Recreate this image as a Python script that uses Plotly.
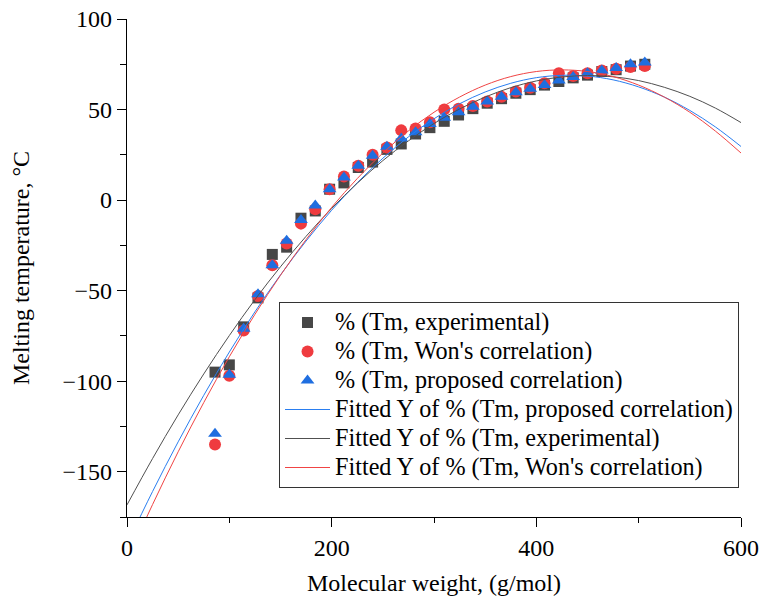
import plotly.graph_objects as go

# Molecular weight (g/mol) of the data points
mw = [86, 100, 114, 128, 142, 156, 170, 184, 198, 212, 226, 240, 254, 268, 282, 296,
      310, 324, 338, 352, 366, 380, 394, 408, 422, 436, 450, 464, 478, 492, 506]

# Melting temperatures (°C)
tm_exp = [-95, -91, -70, -54, -30, -26, -10, -6, 6, 9.5, 18, 21, 28, 31, 36.5, 40,
          43.5, 47, 50.5, 53.5, 56, 59, 61, 63.5, 65.5, 67.5, 69, 71, 72, 74, 75]
tm_won = [-135, -97, -72, -53, -36, -24, -13, -5, 6, 13, 19, 25, 29, 38.5, 39.5, 43,
          50, 50.5, 52, 54.5, 57, 60, 62, 64.5, 70, 68.5, 70, 71.5, 72.5, 73.5, 74]
tm_prop = [-129, -96.5, -71, -52, -36, -22.5, -11, -3, 6, 12.5, 19, 24.5, 29.5, 34, 37.5, 42,
           45.5, 48.5, 51.5, 54.5, 57, 59.5, 61.5, 63.5, 66, 68, 70, 71.5, 73, 75, 76]

# Fitted curves at regular x positions
x_fit = [0, 25, 50, 75, 100, 125, 150, 175, 200, 225, 250, 275, 300, 325, 350, 375,
         400, 425, 450, 475, 500, 525, 550, 575, 600]
fit_prop = [-190, -160.9, -133.5, -107.8, -83.9, -61.7, -41.3, -22.6, -5.6, 9.6, 23.1, 34.9,
            44.9, 53.2, 59.7, 64.5, 67.6, 68.9, 68.5, 66.4, 62.5, 56.9, 49.5, 40.4, 29.6]
fit_exp = [-168.3, -142.7, -118.6, -96.0, -74.8, -55.0, -36.8, -20.0, -4.6, 9.3, 21.8, 32.7,
           42.3, 50.3, 56.9, 62.1, 65.8, 68.0, 68.8, 68.1, 66.0, 62.3, 57.3, 50.8, 42.8]
fit_won = [-199, -168.1, -139.0, -111.8, -86.5, -63.1, -41.5, -21.8, -4.0, 11.9, 26.0, 38.2,
           48.5, 56.9, 63.5, 68.2, 71.0, 71.9, 71.0, 68.2, 63.5, 56.9, 48.5, 38.1, 26.0]

series_names = ["% (Tm, experimental)",
                "% (Tm, Won's correlation)",
                "% (Tm, proposed correlation)",
                "Fitted Y of % (Tm, proposed correlation)",
                "Fitted Y of % (Tm, experimental)",
                "Fitted Y of % (Tm, Won's correlation)"]

FONT = "Liberation Serif"


def leg(name):
    # legend rows are tight in the original; keep row height small but text large
    return '<span style="font-size:24.2px">' + name + '</span>'


fig = go.Figure()
fig.add_trace(go.Scatter(x=mw, y=tm_exp, mode="markers", name=leg(series_names[0]),
                         marker=dict(symbol="square", size=11, color="#474747")))
fig.add_trace(go.Scatter(x=mw, y=tm_won, mode="markers", name=leg(series_names[1]),
                         marker=dict(symbol="circle", size=12, color="#ef3b3f")))
fig.add_trace(go.Scatter(x=mw, y=tm_prop, mode="markers", name=leg(series_names[2]),
                         marker=dict(symbol="triangle-up", size=12, color="#1f6ee0")))
fig.add_trace(go.Scatter(x=x_fit, y=fit_prop, mode="lines", line_shape="spline",
                         name=leg(series_names[3]),
                         line=dict(color="#2a7ef0", width=1)))
fig.add_trace(go.Scatter(x=x_fit, y=fit_exp, mode="lines", line_shape="spline",
                         name=leg(series_names[4]),
                         line=dict(color="#505050", width=1)))
fig.add_trace(go.Scatter(x=x_fit, y=fit_won, mode="lines", line_shape="spline",
                         name=leg(series_names[5]),
                         line=dict(color="#f04444", width=1)))

fig.update_layout(
    width=764, height=596,
    margin=dict(l=127, r=23, t=19, b=79),
    paper_bgcolor="white", plot_bgcolor="white",
    font=dict(family=FONT, size=24, color="black"),
    showlegend=True,
    legend=dict(x=0.2476, y=0.4317, xanchor="left", yanchor="top",
                bordercolor="#333333", borderwidth=1, bgcolor="white",
                font=dict(family=FONT, size=20, color="black"),
                itemwidth=45, tracegroupgap=0),
)
fig.update_xaxes(
    range=[0, 600], dtick=200, tick0=0, automargin=False,
    showgrid=False, zeroline=False,
    showline=True, linecolor="black", linewidth=1.3,
    ticks="outside", ticklen=9, tickwidth=1.3, tickcolor="black",
    minor=dict(dtick=100, ticks="outside", ticklen=5, tickwidth=1.3, tickcolor="black", showgrid=False),
    tickfont=dict(family=FONT, size=24, color="black"),
    title=dict(text="Molecular weight, (g/mol)", font=dict(family=FONT, size=24), standoff=24),
)
fig.update_yaxes(
    range=[-175, 100], dtick=50, tick0=0, automargin=False,
    showgrid=False, zeroline=False,
    showline=True, linecolor="black", linewidth=1.3,
    ticks="outside", ticklen=9, tickwidth=1.3, tickcolor="black",
    minor=dict(dtick=25, ticks="outside", ticklen=6, tickwidth=1.3, tickcolor="black", showgrid=False),
    tickfont=dict(family=FONT, size=24, color="black"),
    title=dict(text="Melting temperature, °C", font=dict(family=FONT, size=24), standoff=26),
)

fig.write_html("out.html")
